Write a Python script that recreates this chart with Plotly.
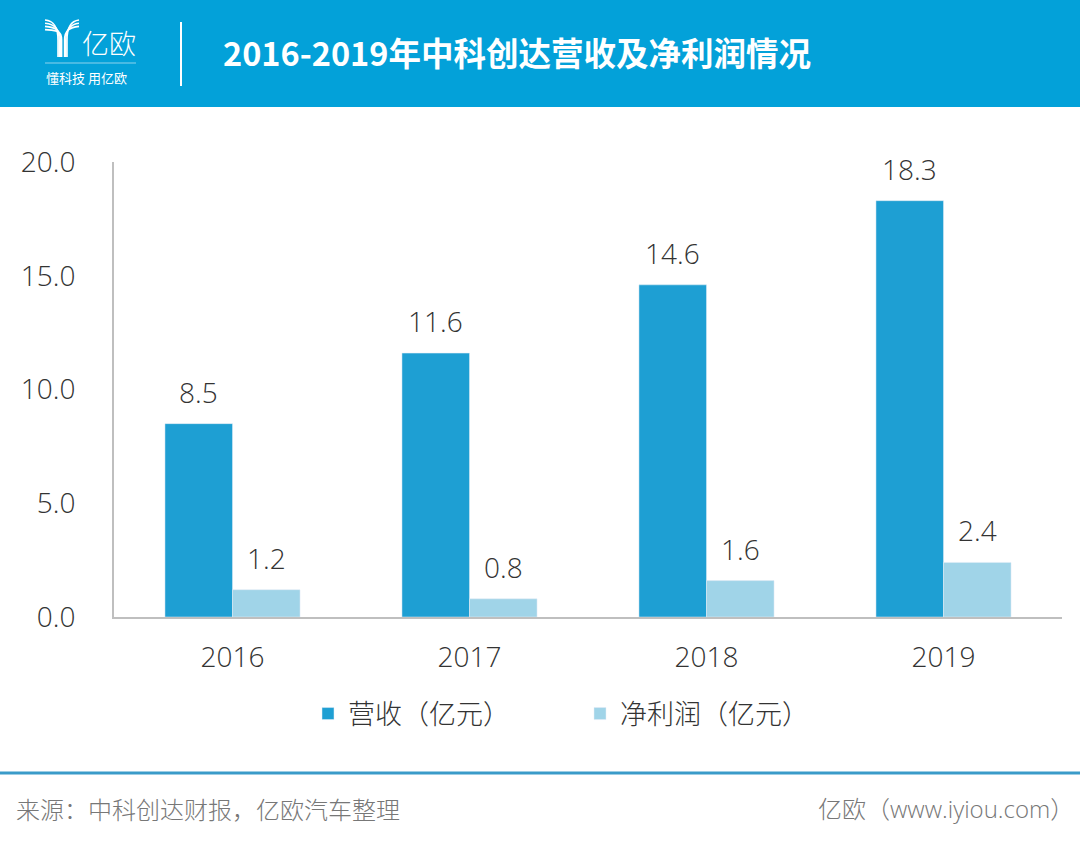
import plotly.graph_objects as go

years = ["2016", "2017", "2018", "2019"]
revenue = [8.5, 11.6, 14.6, 18.3]
profit = [1.2, 0.8, 1.6, 2.4]
revenue_name = "营收（亿元）"
profit_name = "净利润（亿元）"
y_ticks = [0, 5, 10, 15, 20]
y_tick_labels = ["0.0", "5.0", "10.0", "15.0", "20.0"]

title_text = "2016-2019年中科创达营收及净利润情况"
source_text = "来源：中科创达财报，亿欧汽车整理"
brand_text = "亿欧（www.iyiou.com）"

W, H = 1080, 843
L, R, T, B = 114, 18, 162, 226
PW, PH = W - L - R, H - T - B

def px(x):
    return (x - L) / PW

def py(y):
    return (H - B - y) / PH

FONT = "Open Sans, Noto Sans CJK SC, sans-serif"
CJK = "Noto Sans CJK SC, sans-serif"
DARK = "#1E9FD3"
LIGHT = "#A0D4E8"
HEADER = "#03A1D9"
TXT = "#333333"

BARGAP = 0.43
bar_w = (1 - BARGAP) / 2

fig = go.Figure()
fig.add_trace(go.Bar(x=years, y=revenue, name=revenue_name, marker_color=DARK))
fig.add_trace(go.Bar(x=years, y=profit, name=profit_name, marker_color=LIGHT))

annotations = []
for series, off in ((revenue, -bar_w / 2), (profit, bar_w / 2)):
    for i, v in enumerate(series):
        annotations.append(dict(
            x=i + off, y=v, xref="x", yref="y", text=f"{v:.1f}",
            showarrow=False, xanchor="center", yanchor="bottom", yshift=11,
            font=dict(size=28, color=TXT, family=FONT, weight=300)))

shapes = []
# header band
shapes.append(dict(type="rect", xref="paper", yref="paper",
                   x0=px(-2), x1=px(W + 2), y0=py(107), y1=py(-2),
                   fillcolor=HEADER, line_width=0, layer="below"))
# vertical divider
shapes.append(dict(type="line", xref="paper", yref="paper",
                   x0=px(181), x1=px(181), y0=py(22), y1=py(86),
                   line=dict(color="white", width=2)))
# logo underline
shapes.append(dict(type="line", xref="paper", yref="paper",
                   x0=px(45), x1=px(136), y0=py(63), y1=py(63),
                   line=dict(color="rgba(255,255,255,0.55)", width=1)))
# logo "Y" strokes: left arm of parallel curves merging into stem, right arm
for k in range(4):
    d = k * 3.2
    shapes.append(dict(type="path", xref="paper", yref="paper",
                       path=(f"M {px(45)},{py(20 + d)} "
                             f"C {px(56)},{py(21 + d)} {px(58 + k * 1.2)},{py(30)} {px(58 + k * 1.2)},{py(40)} "
                             f"L {px(58 + k * 1.2)},{py(57)}"),
                       line=dict(color="white", width=1.6)))
for k in range(3):
    d = k * 3.2
    shapes.append(dict(type="path", xref="paper", yref="paper",
                       path=(f"M {px(79)},{py(20 + d)} "
                             f"C {px(70)},{py(21 + d)} {px(67 - k * 1.2)},{py(30)} {px(67 - k * 1.2)},{py(40)} "
                             f"L {px(67 - k * 1.2)},{py(57)}"),
                       line=dict(color="white", width=1.6)))
# footer line
shapes.append(dict(type="line", xref="paper", yref="paper",
                   x0=px(-2), x1=px(W + 2), y0=py(773), y1=py(773),
                   line=dict(color="#3A9BC9", width=3)))

annotations += [
    dict(text=f"<b>{title_text}</b>", xref="paper", yref="paper",
         x=px(221), y=py(52), xanchor="left", yanchor="middle", showarrow=False,
         font=dict(size=32.5, color="white", family=CJK)),
    dict(text="亿欧", xref="paper", yref="paper",
         x=px(80), y=py(42), xanchor="left", yanchor="middle", showarrow=False,
         font=dict(size=27, color="white", family=CJK, weight=300)),
    dict(text="懂科技 用亿欧", xref="paper", yref="paper",
         x=px(44), y=py(77), xanchor="left", yanchor="middle", showarrow=False,
         font=dict(size=13, color="white", family=CJK)),
    dict(text=source_text, xref="paper", yref="paper",
         x=px(14), y=py(808), xanchor="left", yanchor="middle", showarrow=False,
         font=dict(size=24, color="#777777", family=CJK, weight=300)),
    dict(text=brand_text, xref="paper", yref="paper",
         x=px(1076), y=py(808), xanchor="right", yanchor="middle", showarrow=False,
         font=dict(size=24, color="#777777", family=FONT, weight=300)),
]

fig.update_layout(
    width=W, height=H,
    margin=dict(l=L, r=R, t=T, b=B, pad=0),
    paper_bgcolor="white", plot_bgcolor="white",
    barmode="group", bargap=BARGAP, bargroupgap=0,
    font=dict(family=FONT, color=TXT, size=26),
    showlegend=True,
    legend=dict(orientation="h", x=px(308), y=py(714), xanchor="left", yanchor="middle",
                font=dict(size=27, color=TXT, family=CJK, weight=300),
                entrywidth=227, itemwidth=30, traceorder="normal"),
    shapes=shapes, annotations=annotations,
    xaxis=dict(showgrid=False, showline=True, linecolor="#BFBFBF", linewidth=2,
               ticks="", tickfont=dict(size=28, color=TXT, family=FONT, weight=300),
               ticklabelstandoff=14, fixedrange=True),
    yaxis=dict(range=[0, 20], tickvals=y_ticks, ticktext=y_tick_labels,
               showgrid=False, zeroline=False, showline=True, linecolor="#BFBFBF", linewidth=2,
               ticks="", tickfont=dict(size=28, color=TXT, family=FONT, weight=300),
               ticklabelstandoff=31, fixedrange=True),
)

fig.write_html("out.html", config={"displayModeBar": False},
               post_script="document.body.style.margin='0';document.body.style.padding='0';")
